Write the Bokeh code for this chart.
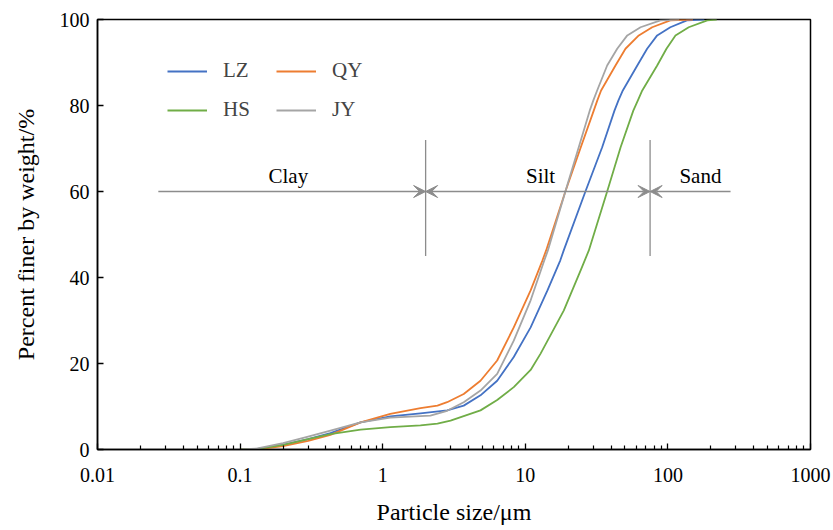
from bokeh.plotting import figure
from bokeh.models import (FixedTicker, Arrow, VeeHead, Legend, LegendItem,
                          ColumnDataSource)
from bokeh.core.properties import value
from bokeh.embed import file_html
from bokeh.resources import INLINE

# ---------------- data ----------------
lz_x = [0.1, 0.13, 0.2, 0.3, 0.43, 0.7, 1.13, 1.84, 2.83, 3.7, 4.85, 6.35, 8.3, 10.9, 14.3, 17.6, 18.6,
        26.4, 34.6, 42.2, 45.0, 48.3, 61.0, 71.5, 84.1, 104, 136, 180]
lz_y = [0.0, 0.1, 1.1, 2.4, 3.8, 6.3, 7.7, 8.4, 9.1, 10.2, 12.6, 16.0, 21.5, 28.4, 37.0, 44.0, 46.3,
        60.0, 70.3, 78.8, 81.2, 83.5, 89.3, 93.2, 96.3, 98.2, 99.8, 100.0]

qy_x = [0.1, 0.13, 0.2, 0.3, 0.43, 0.7, 1.13, 1.84, 2.42, 2.83, 3.7, 4.85, 6.35, 8.3, 10.9, 13.2, 14.0,
        19.1, 24.5, 30.2, 32.0, 34.0, 42.9, 50.4, 62.5, 77.6, 104, 150]
qy_y = [0.0, 0.0, 0.8, 2.0, 3.4, 6.3, 8.3, 9.6, 10.2, 11.0, 12.9, 16.0, 20.7, 28.4, 37.0, 44.0, 46.3,
        60.0, 70.3, 78.8, 81.2, 83.5, 89.3, 93.2, 96.3, 98.2, 99.8, 100.0]

hs_x = [0.1, 0.13, 0.2, 0.3, 0.43, 0.7, 1.13, 1.84, 2.42, 2.99, 4.85, 6.35, 8.3, 10.9, 12.8, 18.6, 24.4,
        27.9, 37.5, 46.6, 57.2, 61.6, 66.1, 84.1, 97.7, 113, 140, 189, 220]
hs_y = [0.0, 0.1, 1.1, 2.4, 3.6, 4.6, 5.2, 5.6, 6.0, 6.7, 9.1, 11.5, 14.5, 18.5, 22.3, 32.3, 41.6,
        46.3, 60.0, 70.3, 78.8, 81.2, 83.5, 89.3, 93.2, 96.3, 98.2, 99.8, 100.0]

jy_x = [0.1, 0.13, 0.2, 0.3, 0.43, 0.7, 1.13, 2.16, 2.83, 3.7, 4.85, 6.35, 8.3, 10.9, 13.6, 14.4, 19.1,
        23.7, 28.3, 30.0, 31.9, 37.5, 44.1, 51.9, 64.3, 88.7, 120]
jy_y = [0.0, 0.2, 1.5, 3.0, 4.4, 6.3, 7.4, 7.9, 9.0, 11.0, 13.7, 17.6, 25.3, 34.7, 44.0, 46.3, 60.0,
        70.3, 78.8, 81.2, 83.5, 89.3, 93.2, 96.3, 98.2, 99.8, 100.0]

series_names = ["LZ", "QY", "HS", "JY"]
series_colors = ["#4472C4", "#ED7D31", "#70AD47", "#A5A5A5"]

x_ticks = [0.01, 0.1, 1, 10, 100, 1000]
x_tick_labels = ["0.01", "0.1", "1", "10", "100", "1000"]
y_ticks = [0, 20, 40, 60, 80, 100]

# size classes (boundaries in µm) and annotation extents
clay_silt = 2
silt_sand = 75
clay_start = 0.0267
sand_end = 275
arrow_y = 60
bound_y0, bound_y1 = 45, 72
zone_names = ["Clay", "Silt", "Sand"]
zone_label_x = [0.218, 12.8, 169]
zone_label_y = [63.7, 63.7, 63.7]

FONT = "Liberation Serif"
GREY = "#8C8C8C"

# ---------------- figure ----------------
p = figure(width=833, height=530, x_axis_type="log",
           x_range=(0.01, 1000), y_range=(0, 100),
           output_backend="svg", toolbar_location=None,
           min_border_left=97, min_border_right=23,
           min_border_top=19, min_border_bottom=81)
p.background_fill_color = "white"
p.border_fill_color = "white"
p.outline_line_color = "black"
p.outline_line_width = 1.5
p.grid.visible = False

minor = [k * 10.0 ** d for d in range(-2, 3) for k in range(2, 10)]
p.xaxis.ticker = FixedTicker(ticks=x_ticks, minor_ticks=minor)
p.xaxis.major_label_overrides = {t: l for t, l in zip(x_ticks, x_tick_labels)}
p.yaxis.ticker = FixedTicker(ticks=y_ticks, minor_ticks=[])

for ax in (p.xaxis[0], p.yaxis[0]):
    ax.axis_line_color = "black"
    ax.axis_line_width = 1.5
    ax.major_tick_line_color = "black"
    ax.minor_tick_line_color = "black"
    ax.major_tick_line_width = 1.3
    ax.minor_tick_line_width = 1.2
    ax.major_tick_in = 6
    ax.major_tick_out = 0
    ax.minor_tick_in = 4
    ax.minor_tick_out = 0
    ax.major_label_text_font = FONT
    ax.major_label_text_font_size = "20px"
    ax.major_label_text_color = "black"
    ax.axis_label_text_font = FONT
    ax.axis_label_text_font_size = "24px"
    ax.axis_label_text_font_style = "normal"
    ax.axis_label_text_color = "black"

p.xaxis.axis_label = "Particle size/μm"
p.xaxis.major_label_standoff = 18
p.xaxis.axis_label_standoff = 14
p.yaxis.axis_label = "Percent finer by weight/%"
p.yaxis.major_label_standoff = 8
p.yaxis.axis_label_standoff = 18

# ---------------- curves ----------------
renderers = []
for xs, ys, c in zip([lz_x, qy_x, hs_x, jy_x], [lz_y, qy_y, hs_y, jy_y], series_colors):
    r = p.line(xs, ys, line_color=c, line_width=1.8, line_join="round")
    renderers.append(r)

legend = Legend(items=[LegendItem(label=n, renderers=[r]) for n, r in zip(series_names, renderers)],
                orientation="horizontal", ncols=2,
                location=(70, 327), padding=0, margin=0, spacing=14,
                glyph_width=40, glyph_height=24, label_height=24, label_width=39,
                label_standoff=16,
                label_text_font=FONT, label_text_font_size="21px",
                border_line_color=None, background_fill_alpha=0)
p.add_layout(legend, "center")

# ---------------- size class annotations ----------------
p.segment(x0=[clay_silt, silt_sand], y0=[bound_y0, bound_y0],
          x1=[clay_silt, silt_sand], y1=[bound_y1, bound_y1],
          line_color=GREY, line_width=1.3)

def head():
    return VeeHead(size=12, fill_color=GREY, line_color=GREY, line_width=1)

p.add_layout(Arrow(x_start=clay_start, y_start=arrow_y, x_end=clay_silt, y_end=arrow_y,
                   end=head(), line_color=GREY, line_width=1.3))
p.add_layout(Arrow(x_start=clay_silt, y_start=arrow_y, x_end=silt_sand, y_end=arrow_y,
                   start=head(), end=head(), line_color=GREY, line_width=1.3))
p.add_layout(Arrow(x_start=sand_end, y_start=arrow_y, x_end=silt_sand, y_end=arrow_y,
                   end=head(), line_color=GREY, line_width=1.3))

src = ColumnDataSource(dict(x=zone_label_x, y=zone_label_y, t=zone_names))
p.text(x="x", y="y", text="t", source=src, text_font=value(FONT),
       text_font_size="21px", text_align="center", text_baseline="middle",
       text_color="black")

open("out.html", "w").write(file_html(p, INLINE))
